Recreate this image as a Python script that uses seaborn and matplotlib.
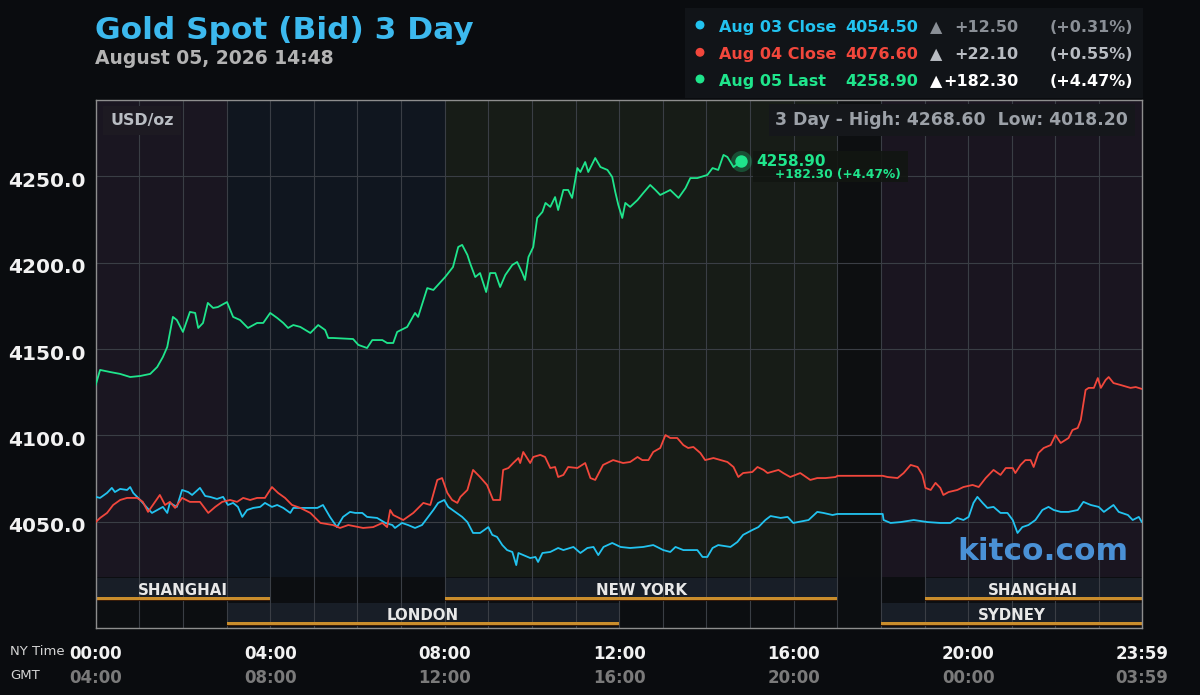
import numpy as np
import pandas as pd
import seaborn as sns
import matplotlib.pyplot as plt
from matplotlib.patches import Rectangle, Ellipse
from matplotlib.transforms import ScaledTranslation

#%% data: NY time (hours after midnight) and bid price in USD/oz
aug03_hour = [0.00, 0.10, 0.26, 0.37, 0.44, 0.56, 0.72, 0.79, 0.86, 1.02,
              1.18, 1.29, 1.41, 1.54, 1.64, 1.70, 1.86, 1.98, 2.12, 2.21,
              2.39, 2.51, 2.62, 2.78, 2.92, 3.03, 3.15, 3.26, 3.36, 3.47,
              3.61, 3.77, 3.88, 4.04, 4.16, 4.30, 4.46, 4.53, 4.69, 4.85,
              5.08, 5.21, 5.37, 5.53, 5.67, 5.83, 5.95, 6.11, 6.22, 6.45,
              6.64, 6.80, 6.86, 7.02, 7.16, 7.32, 7.48, 7.62, 7.74, 7.85,
              7.99, 8.08, 8.24, 8.40, 8.52, 8.65, 8.81, 9.00, 9.09, 9.20,
              9.32, 9.43, 9.55, 9.64, 9.69, 9.80, 9.96, 10.08, 10.14, 10.24,
              10.42, 10.60, 10.72, 10.95, 11.11, 11.27, 11.41, 11.52, 11.64, 11.84,
              12.03, 12.25, 12.55, 12.78, 13.01, 13.17, 13.29, 13.47, 13.79, 13.91,
              14.02, 14.14, 14.27, 14.55, 14.71, 14.84, 15.05, 15.19, 15.35, 15.47,
              15.70, 15.86, 15.99, 16.34, 16.54, 16.68, 16.89, 17.00, 18.04, 18.06,
              18.22, 18.45, 18.75, 19.07, 19.36, 19.59, 19.75, 19.89, 20.01, 20.12,
              20.21, 20.33, 20.44, 20.58, 20.74, 20.90, 21.02, 21.13, 21.24, 21.38,
              21.54, 21.70, 21.84, 21.96, 22.12, 22.30, 22.51, 22.64, 22.81, 22.99,
              23.11, 23.33, 23.45, 23.66, 23.77, 23.91, 23.98]
aug03_bid = [4064.4, 4063.8, 4066.7, 4069.6, 4067.2, 4069.0, 4068.4, 4070.1, 4066.7, 4062.6,
             4058.0, 4055.1, 4056.8, 4058.6, 4055.1, 4060.9, 4058.6, 4068.4, 4067.2, 4065.5,
             4069.6, 4064.9, 4064.4, 4063.2, 4064.4, 4059.7, 4060.9, 4058.6, 4052.8, 4056.8,
             4058.0, 4058.6, 4060.9, 4058.6, 4059.7, 4058.0, 4055.1, 4058.0, 4058.0, 4058.0,
             4058.0, 4059.7, 4052.8, 4046.9, 4052.8, 4055.7, 4055.1, 4055.1, 4052.8, 4052.2,
             4049.3, 4048.1, 4046.4, 4049.3, 4048.1, 4046.4, 4048.1, 4052.8, 4056.8, 4060.9,
             4062.6, 4058.6, 4055.7, 4052.8, 4049.8, 4043.5, 4043.5, 4046.9, 4042.4, 4041.2,
             4036.5, 4033.6, 4032.5, 4024.9, 4031.9, 4030.7, 4029.0, 4029.6, 4026.7, 4031.9,
             4032.5, 4034.8, 4033.6, 4035.4, 4031.9, 4034.8, 4035.4, 4030.7, 4035.4, 4037.7,
             4035.4, 4034.8, 4035.4, 4036.5, 4033.6, 4032.5, 4035.4, 4033.6, 4033.6, 4029.6,
             4029.6, 4034.8, 4036.5, 4035.4, 4038.3, 4042.4, 4045.2, 4046.9, 4051.0, 4053.3,
             4052.2, 4052.8, 4049.3, 4051.0, 4055.7, 4055.1, 4053.9, 4054.5, 4054.5, 4051.0,
             4049.3, 4049.8, 4051.0, 4049.8, 4049.3, 4049.3, 4052.2, 4051.0, 4052.8, 4060.9,
             4064.4, 4060.9, 4058.0, 4058.6, 4055.1, 4055.1, 4051.0, 4043.5, 4046.9, 4048.1,
             4051.0, 4056.8, 4058.6, 4056.8, 4055.7, 4055.7, 4056.8, 4061.5, 4059.7, 4058.6,
             4055.7, 4059.7, 4055.7, 4053.9, 4051.0, 4052.8, 4049.8]

aug04_hour = [0.00, 0.10, 0.26, 0.40, 0.56, 0.72, 0.95, 1.08, 1.20, 1.31,
              1.47, 1.59, 1.70, 1.82, 1.98, 2.16, 2.39, 2.58, 2.74, 2.90,
              3.08, 3.24, 3.38, 3.54, 3.70, 3.88, 4.04, 4.18, 4.34, 4.50,
              4.69, 4.92, 5.15, 5.44, 5.60, 5.79, 6.13, 6.36, 6.57, 6.68,
              6.75, 6.82, 7.05, 7.28, 7.51, 7.67, 7.83, 7.94, 8.06, 8.17,
              8.29, 8.36, 8.52, 8.65, 8.81, 8.97, 9.11, 9.27, 9.34, 9.46,
              9.57, 9.69, 9.73, 9.80, 9.96, 10.03, 10.19, 10.30, 10.42, 10.53,
              10.60, 10.72, 10.83, 11.04, 11.22, 11.34, 11.45, 11.63, 11.86, 12.09,
              12.25, 12.42, 12.53, 12.67, 12.78, 12.94, 13.06, 13.17, 13.33, 13.47,
              13.58, 13.70, 13.86, 13.97, 14.16, 14.48, 14.62, 14.73, 14.84, 15.05,
              15.17, 15.31, 15.40, 15.65, 15.76, 15.92, 16.15, 16.38, 16.54, 16.73,
              16.96, 17.00, 18.04, 18.15, 18.38, 18.52, 18.68, 18.84, 18.95, 19.02,
              19.14, 19.25, 19.36, 19.43, 19.55, 19.75, 19.89, 20.10, 20.24, 20.40,
              20.58, 20.74, 20.86, 21.02, 21.08, 21.20, 21.31, 21.43, 21.50, 21.61,
              21.73, 21.89, 22.00, 22.12, 22.30, 22.39, 22.51, 22.58, 22.69, 22.76,
              22.88, 22.97, 23.04, 23.15, 23.22, 23.33, 23.49, 23.72, 23.84, 23.98]
aug04_bid = [4049.8, 4052.2, 4055.1, 4059.7, 4062.6, 4063.8, 4063.8, 4061.5, 4055.7, 4059.7,
             4065.5, 4059.7, 4061.5, 4058.0, 4063.8, 4061.5, 4061.5, 4055.1, 4058.6, 4061.5,
             4062.6, 4061.5, 4063.8, 4062.6, 4063.8, 4063.8, 4070.1, 4066.7, 4063.8, 4059.7,
             4058.0, 4055.1, 4049.3, 4048.1, 4046.4, 4048.1, 4046.4, 4046.9, 4049.3, 4046.9,
             4056.8, 4053.9, 4051.0, 4055.1, 4060.9, 4059.7, 4074.2, 4075.3, 4066.7, 4062.6,
             4060.9, 4064.4, 4068.4, 4080.0, 4075.9, 4071.3, 4062.6, 4062.6, 4080.0, 4081.1,
             4084.0, 4086.9, 4084.0, 4090.4, 4084.0, 4087.5, 4088.7, 4087.5, 4081.1, 4081.7,
             4075.9, 4077.1, 4081.7, 4081.1, 4084.0, 4075.3, 4074.2, 4082.9, 4085.7, 4084.0,
             4084.6, 4087.5, 4085.7, 4085.7, 4090.4, 4092.7, 4100.2, 4098.5, 4098.5, 4094.4,
             4092.7, 4093.3, 4089.8, 4085.7, 4086.9, 4084.6, 4081.7, 4075.9, 4078.2, 4078.8,
             4081.7, 4080.0, 4078.2, 4080.0, 4078.2, 4075.9, 4078.2, 4074.2, 4075.3, 4075.3,
             4075.9, 4076.6, 4076.6, 4075.9, 4075.3, 4078.2, 4082.9, 4081.7, 4077.1, 4069.6,
             4068.4, 4072.5, 4069.6, 4065.5, 4067.2, 4068.4, 4070.1, 4071.3, 4070.1, 4075.3,
             4080.0, 4077.1, 4081.1, 4081.1, 4078.2, 4082.9, 4085.7, 4085.7, 4081.7, 4089.8,
             4092.7, 4094.4, 4100.2, 4095.6, 4098.5, 4103.1, 4104.3, 4108.9, 4126.3, 4127.5,
             4127.5, 4133.2, 4127.5, 4132.1, 4133.8, 4130.3, 4129.2, 4127.5, 4128.0, 4126.9]

aug05_hour = [0.00, 0.10, 0.33, 0.56, 0.79, 1.02, 1.25, 1.41, 1.54, 1.64,
              1.77, 1.86, 2.00, 2.16, 2.28, 2.35, 2.46, 2.57, 2.69, 2.80,
              3.01, 3.15, 3.31, 3.49, 3.70, 3.84, 4.00, 4.16, 4.30, 4.41,
              4.53, 4.69, 4.92, 5.10, 5.26, 5.33, 5.44, 5.90, 6.02, 6.22,
              6.34, 6.57, 6.68, 6.82, 6.91, 7.14, 7.32, 7.39, 7.60, 7.74,
              8.01, 8.19, 8.31, 8.40, 8.52, 8.58, 8.70, 8.81, 8.95, 9.04,
              9.16, 9.27, 9.39, 9.55, 9.66, 9.78, 9.84, 9.92, 10.03, 10.12,
              10.24, 10.31, 10.42, 10.53, 10.60, 10.72, 10.83, 10.92, 11.04, 11.11,
              11.22, 11.29, 11.45, 11.57, 11.73, 11.84, 11.91, 11.98, 12.07, 12.14,
              12.25, 12.42, 12.55, 12.71, 12.83, 12.94, 13.17, 13.36, 13.52, 13.63,
              13.79, 14.02, 14.14, 14.27, 14.39, 14.48, 14.62, 14.80]
aug05_bid = [4129.2, 4137.9, 4136.7, 4135.6, 4133.8, 4134.4, 4135.6, 4139.6, 4145.4, 4151.2,
             4168.6, 4166.8, 4159.9, 4171.5, 4170.9, 4162.2, 4165.1, 4176.7, 4173.8, 4174.3,
             4177.2, 4168.6, 4166.8, 4162.2, 4165.1, 4165.1, 4170.9, 4168.0, 4165.1, 4162.2,
             4163.9, 4162.8, 4159.3, 4163.9, 4161.0, 4156.4, 4156.4, 4155.8, 4152.4, 4150.6,
             4155.2, 4155.2, 4153.5, 4153.5, 4159.9, 4162.8, 4170.9, 4168.6, 4185.3, 4184.2,
             4191.7, 4197.5, 4209.1, 4210.3, 4204.5, 4199.8, 4191.7, 4194.0, 4183.0, 4194.0,
             4194.0, 4185.9, 4192.9, 4198.7, 4200.4, 4194.0, 4190.0, 4203.3, 4209.1, 4225.9,
             4229.4, 4234.6, 4232.3, 4238.0, 4230.5, 4242.1, 4242.1, 4237.5, 4254.8, 4252.5,
             4258.3, 4252.5, 4260.6, 4255.4, 4253.7, 4249.6, 4240.9, 4233.4, 4225.9, 4234.6,
             4232.3, 4236.3, 4240.3, 4245.0, 4242.1, 4239.2, 4242.1, 4237.5, 4243.2, 4249.0,
             4249.0, 4250.8, 4254.8, 4253.7, 4262.4, 4261.2, 4255.4, 4258.9]

day_names = ['Aug 03', 'Aug 04', 'Aug 05']
day_colors = ['#22c3f0', '#f2473c', '#1fe58c']

legend_labels = ['Aug 03 Close', 'Aug 04 Close', 'Aug 05 Last']
legend_values = [4054.50, 4076.60, 4258.90]
legend_changes = [12.50, 22.10, 182.30]
legend_pcts = [0.31, 0.55, 4.47]
change_colors = ['#8a8f96', '#b8bcc2', '#ffffff']
high_3day = 4268.60
low_3day = 4018.20

y_ticks = [4050, 4100, 4150, 4200, 4250]
ny_ticks = [0, 4, 8, 12, 16, 20, 23 + 59 / 60]
ny_labels = ['00:00', '04:00', '08:00', '12:00', '16:00', '20:00', '23:59']
gmt_labels = ['04:00', '08:00', '12:00', '16:00', '20:00', '00:00', '03:59']

session_names = ['SHANGHAI', 'NEW YORK', 'SHANGHAI', 'LONDON', 'SYDNEY']
session_start = [0, 8, 19, 3, 18]
session_end = [4, 17, 24, 12, 24]
session_row = [0, 0, 0, 1, 1]

shade_start = [0, 3, 8, 17, 18]
shade_end = [3, 8, 17, 18, 24]
shade_colors = ['#1a1621', '#10161f', '#171c17', '#0d0f11', '#1a1520']

#%% frame
BG = '#0a0c0f'
W, H = 1200, 695
fx = lambda px: px / W
fy = lambda py: 1 - py / H

frames = [pd.DataFrame({'hour': h, 'bid': b, 'day': d})
          for h, b, d in zip([aug03_hour, aug04_hour, aug05_hour],
                             [aug03_bid, aug04_bid, aug05_bid], day_names)]
df = pd.concat(frames, ignore_index=True)

sns.set_theme(style='dark')
plt.rcParams['font.family'] = ['DejaVu Sans']

fig = plt.figure(figsize=(12, 6.95), dpi=100, facecolor=BG)
ax = fig.add_axes([fx(95.7), fy(628.3), fx(1142) - fx(95.7), (628.3 - 100) / H])
ax.set_facecolor('#0c0e11')
ax.set_xlim(0, 23 + 59 / 60)
ax.set_ylim(3988.3, 4294.2)

price_floor = (628.3 - 577) / 528.3
for s, e, c in zip(shade_start, shade_end, shade_colors):
    ax.axvspan(s, e, ymin=price_floor, ymax=1, color=c, lw=0, zorder=0.1)

# session bars
row_box = [(0.0517, 0.0946), (0.0044, 0.0473)]
row_text = [0.0635, 0.0160]
for name, s, e, r in zip(session_names, session_start, session_end, session_row):
    y0, y1 = row_box[r]
    ax.axvspan(s, e, ymin=y0, ymax=y1, color='#181e27', lw=0, zorder=0.2)
    ax.axvspan(s, e, ymin=y0, ymax=y0 + 0.0022, color='#3a1c08', lw=0, zorder=2.5)
    ax.axvspan(s, e, ymin=y0 + 0.0022, ymax=y0 + 0.0072, color='#c98d2c', lw=0, zorder=2.5)
    xm = (s + min(e, 23 + 59 / 60)) / 2
    ax.text(xm, row_text[r], name, transform=ax.get_xaxis_transform(), ha='center',
            va='baseline', color='#e8e8e8', fontsize=10.8, fontweight='bold', zorder=3)

sns.lineplot(data=df, x='hour', y='bid', hue='day', palette=dict(zip(day_names, day_colors)),
             estimator=None, sort=False, lw=1.3, legend=False, ax=ax, zorder=3)

# grid / axes
ax.set_axisbelow(True)
ax.set_xticks(range(1, 24))
ax.set_xticklabels([])
ax.set_yticks(y_ticks)
ax.set_yticklabels([f'{v:.1f}' for v in y_ticks])
ax.grid(True, color='#3a3e45', lw=0.8)
ax.tick_params(axis='both', length=0)
ax.tick_params(axis='y', pad=7, labelsize=14.5, labelcolor='#f2f2f2')
for lab in ax.get_yticklabels():
    lab.set_fontweight('bold')
    lab.set_transform(lab.get_transform() + ScaledTranslation(0, -0.03, fig.dpi_scale_trans))
ax.set_xlabel('')
ax.set_ylabel('')
for sp in ax.spines.values():
    sp.set_color('#8e8e8e')
    sp.set_linewidth(1)

# time labels
for t, ny, gmt in zip(ny_ticks, ny_labels, gmt_labels):
    ax.text(t, (628.3 - 659.3) / 528.3, ny, transform=ax.get_xaxis_transform(), ha='center',
            va='baseline', color='#f2f2f2', fontsize=12, fontweight='bold')
    ax.text(t, (628.3 - 682.7) / 528.3, gmt, transform=ax.get_xaxis_transform(), ha='center',
            va='baseline', color='#7a7a7a', fontsize=12, fontweight='bold')
fig.text(fx(10), fy(655), 'NY Time', color='#d4d4d4', fontsize=9.5, va='baseline')
fig.text(fx(10), fy(679), 'GMT', color='#d4d4d4', fontsize=9.5, va='baseline')

# last price marker
last_h, last_p = aug05_hour[-1], aug05_bid[-1]
tr = fig.dpi_scale_trans + ScaledTranslation(last_h, last_p, ax.transData)
ax.add_patch(Rectangle((0.12, -0.21), 1.55, 0.31, transform=tr, facecolor='#121612',
                       edgecolor='none', alpha=0.9, zorder=3.5, clip_on=False))
ax.scatter([last_h], [last_p], s=230, color=day_colors[2], alpha=0.25, lw=0, zorder=4)
ax.scatter([last_h], [last_p], s=80, color=day_colors[2], lw=0, zorder=4)
ax.annotate(f'{last_p:.2f}', xy=(last_h, last_p), xytext=(15, -5.3), textcoords='offset pixels',
            va='baseline', color=day_colors[2], fontsize=11, fontweight='bold', zorder=5)
ax.annotate(f'+{legend_changes[2]:.2f} (+{legend_pcts[2]:.2f}%)', xy=(last_h, last_p),
            xytext=(34, -17.3), textcoords='offset pixels', va='baseline',
            color=day_colors[2], fontsize=8.8, fontweight='bold', zorder=5)

# boxes inside the plot
ax.text((110 - 95.7) / 1046.3, (628.3 - 125) / 528.3, 'USD/oz', transform=ax.transAxes,
        va='baseline', color='#b9bdc3', fontsize=11.4, fontweight='bold', zorder=5,
        bbox=dict(boxstyle='square,pad=0.45', facecolor='#1d1a22', edgecolor='none'))
ax.text((1128 - 95.7) / 1046.3, (628.3 - 125) / 528.3,
        f'3 Day - High: {high_3day:.2f}  Low: {low_3day:.2f}', transform=ax.transAxes,
        ha='right', va='baseline', color='#9ca1a8', fontsize=12.4, fontweight='bold', zorder=5,
        bbox=dict(boxstyle='square,pad=0.38', facecolor='#15171b', edgecolor='none'))
ax.text((1128 - 95.7) / 1046.3, (628.3 - 560) / 528.3, 'kitco.com', transform=ax.transAxes,
        ha='right', va='baseline', color='#4a91d6', fontsize=22.5, fontweight='bold', zorder=5)

# title block
fig.text(fx(95), fy(39.3), 'Gold Spot (Bid) 3 Day', color='#3cb9ee', fontsize=22.5,
         fontweight='bold', va='baseline')
fig.text(fx(95), fy(64), 'August 05, 2026 14:48', color='#b3b3b3', fontsize=13.5,
         fontweight='bold', va='baseline')

# top-right legend
fig.patches.append(Rectangle((fx(685), fy(98)), fx(1143) - fx(685), (98 - 8) / H,
                             transform=fig.transFigure, facecolor='#111418', edgecolor='none'))
dot_y = [25, 52.3, 79]
base_y = [32.3, 59.3, 86.0]
for i in range(3):
    c = day_colors[i]
    fig.patches.append(Ellipse((fx(700), fy(dot_y[i])), 7.5 / W, 7.5 / H,
                               transform=fig.transFigure, color=c))
    kw = dict(fontsize=11.5, fontweight='bold', va='baseline')
    fig.text(fx(719), fy(base_y[i]), legend_labels[i], color=c, **kw)
    fig.text(fx(845), fy(base_y[i]), f'{legend_values[i]:.2f}', color=c, **kw)
    fig.text(fx(936), fy(base_y[i]), '\u25b2', color=change_colors[i], ha='center', **kw)
    fig.text(fx(1018), fy(base_y[i]), f'+{legend_changes[i]:.2f}', color=change_colors[i],
             ha='right', **kw)
    fig.text(fx(1133), fy(base_y[i]), f'(+{legend_pcts[i]:.2f}%)', color=change_colors[i],
             ha='right', **kw)

fig.savefig('out.png', dpi=100, facecolor=BG)
